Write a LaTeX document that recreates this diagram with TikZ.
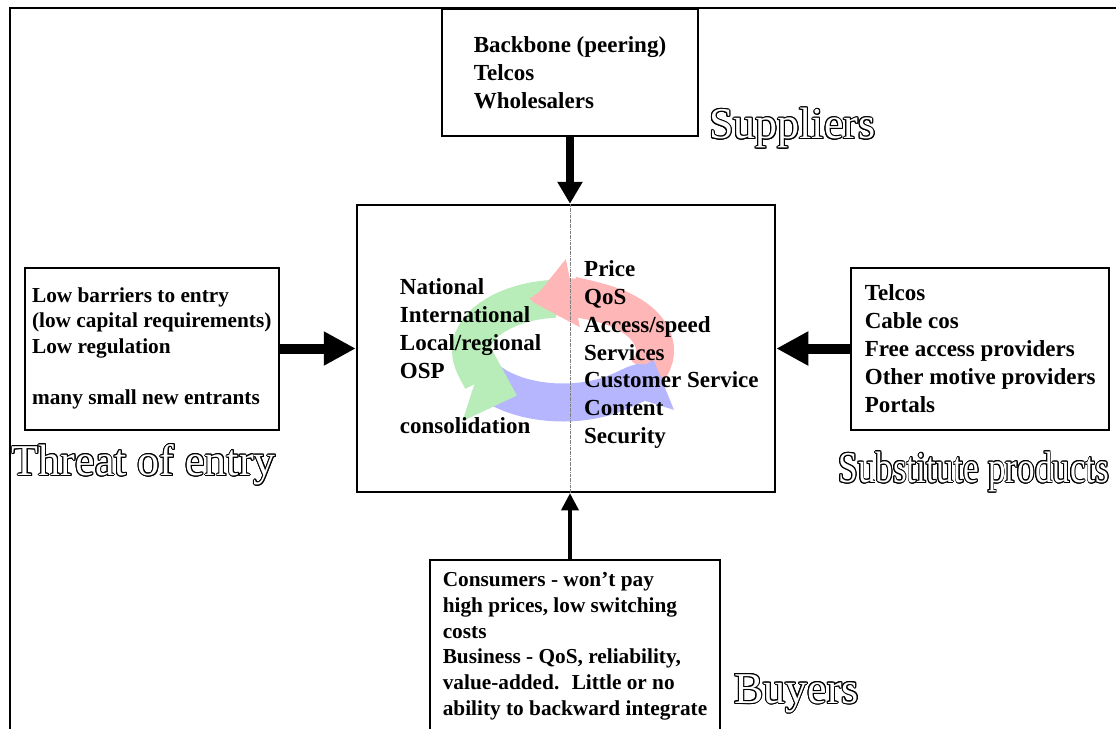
\documentclass[tikz,border=0pt]{standalone}
\usepackage{fontspec}
\setmainfont{Liberation Serif}
\usepackage{xcolor}
\usepackage{graphicx}
\usepackage{contour}
\contourlength{1pt}
\usepackage{tikz}
\usetikzlibrary{arrows.meta,positioning}
\definecolor{CycRed}{HTML}{FFB6B6}
\definecolor{CycGreen}{HTML}{B8ECB8}
\definecolor{CycBlue}{HTML}{B6B6FF}
\newcommand{\hollow}[1]{\contour{black}{#1}}
\tikzset{
  box/.style={draw=black,line width=2pt,align=left,inner sep=0pt,
              font=\bfseries\fontsize{23}{28}\selectfont},
  smallbox/.style={box,font=\bfseries\fontsize{21.3}{25.7}\selectfont},
  coltext/.style={align=left,inner sep=0pt,anchor=north west,
              font=\bfseries\fontsize{23}{27.7}\selectfont},
  force/.style={font=\fontsize{44}{48}\selectfont,text=white,inner sep=0pt,anchor=base west},
  bigflow/.style={line width=10pt,-{Triangle[width=32pt,length=32pt]}},
  midflow/.style={line width=8pt,-{Triangle[width=24pt,length=22pt]}},
  thinflow/.style={line width=3.5pt,-{Triangle[width=17pt,length=17pt]}},
  cyclearrow/.style={line width=38pt,-{Triangle[width=66pt,length=42pt]}},
  divider/.style={densely dashdotted,line width=0.6pt,draw=gray},
  frame/.style={line width=2pt}
}
\begin{document}
\begin{tikzpicture}[x=1pt,y=-1pt]
  \useasboundingbox (0,0) rectangle (1116,728);
  % outer frame, runs off the page on the right and bottom
  \draw[frame] (10,740) -- (10,8) -- (1130,8);

  \node[box,line width=2.5pt,minimum width=418pt,minimum height=287pt] (core) at (566,348.5) {};
  \coordinate (axis) at ([xshift=4pt]core.north);
  \coordinate (hub) at ([xshift=-3pt,yshift=-2pt]core.center);

  \node[box,minimum width=256pt,minimum height=127pt,above=67pt of axis] (supp)
    {Backbone (peering)\\Telcos\\Wholesalers};
  \node[smallbox,minimum width=254pt,minimum height=162pt,left=76pt of core] (entry)
    {Low barriers to entry\\(low capital requirements)\\Low regulation\\ \\many small new entrants};
  \node[box,minimum width=258pt,minimum height=162pt,right=74pt of core] (subst)
    {Telcos\\Cable cos\\Free access providers\\Other motive providers\\Portals};
  \node[smallbox,minimum width=290pt,minimum height=172pt,below=66pt of core,xshift=9pt] (buy)
    {Consumers - won't pay\\high prices, low switching\\costs\\Business - QoS, reliability,\\value-added.~ Little or no\\ability to backward integrate};

  % the cycle in the middle (red head drawn again so it lies over the green tail)
  \draw[cyclearrow,draw=CycRed] (hub) ++(25:92 and 52)
    arc[start angle=25,end angle=-110,x radius=92,y radius=52];
  \draw[cyclearrow,draw=CycBlue] (hub) ++(-215:92 and 52)
    arc[start angle=-215,end angle=-350,x radius=92,y radius=52];
  \draw[cyclearrow,draw=CycGreen,-{Triangle[width=80pt,length=44pt]}] (hub) ++(-95:92 and 52)
    arc[start angle=-95,end angle=-240,x radius=92,y radius=52];
  \draw[cyclearrow,draw=CycRed] (hub) ++(-50:92 and 52)
    arc[start angle=-50,end angle=-110,x radius=92,y radius=52];

  \draw[divider] (axis) -- (axis |- core.south);

  \node[coltext] (reach) at ([xshift=44pt,yshift=-75pt]core.north west)
    {National\\International\\Local/regional\\OSP\\ \\consolidation};
  \node[coltext] (drivers) at ([xshift=14pt,yshift=-57pt]axis)
    {Price\\QoS\\Access/speed\\Services\\Customer Service\\Content\\Security};

  \draw[midflow] (supp) -- (axis);
  \draw[bigflow] (entry) -- (core);
  \draw[bigflow] (subst) -- (core);
  \draw[thinflow] (buy.north -| axis) -- (axis |- core.south);

  \node[force] (supplab) at ([xshift=10pt,yshift=-2pt]supp.south east) {\hollow{Suppliers}};
  \node[force] (entrylab) at ([xshift=-12pt,yshift=-45pt]entry.south west) {\hollow{Threat of entry}};
  \node[force] (subslab) at ([xshift=-12pt,yshift=-52pt]subst.south west)
    {\scalebox{0.8}[1]{\hollow{Substitute products}}};
  \node[force] (buylab) at ([xshift=13pt,yshift=-144pt]buy.north east) {\hollow{Buyers}};
\end{tikzpicture}
\end{document}
